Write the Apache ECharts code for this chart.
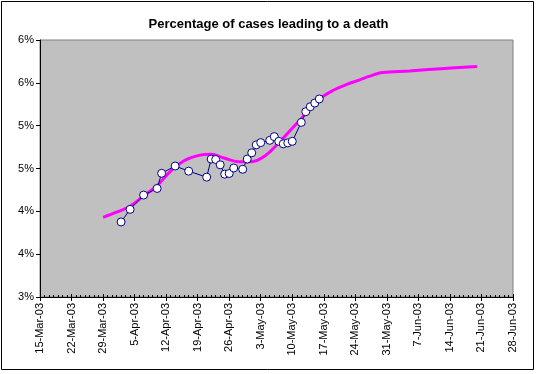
<!DOCTYPE html>
<html><head><meta charset="utf-8">
<script src="https://cdn.jsdelivr.net/npm/echarts@6/dist/echarts.min.js"></script>
<style>html,body{margin:0;padding:0;background:#fff}#c{width:537px;height:374px}</style>
</head><body><div id="c"></div>
<script>
const title = 'Percentage of cases leading to a death';
const startDate = '2003-03-15';
const endDate = '2003-06-28';
// observed percentages (blue markers)
const obsDates = ['2003-04-02','2003-04-04','2003-04-07','2003-04-10','2003-04-11','2003-04-14','2003-04-17','2003-04-21','2003-04-22','2003-04-23','2003-04-24','2003-04-25','2003-04-26','2003-04-27','2003-04-29','2003-04-30','2003-05-01','2003-05-02','2003-05-03','2003-05-05','2003-05-06','2003-05-07','2003-05-08','2003-05-09','2003-05-10','2003-05-12','2003-05-13','2003-05-14','2003-05-15','2003-05-16'];
const obsValues = [3.876,4.023,4.190,4.267,4.444,4.529,4.469,4.399,4.610,4.605,4.543,4.434,4.442,4.506,4.491,4.610,4.683,4.776,4.802,4.829,4.872,4.817,4.788,4.799,4.817,5.038,5.163,5.221,5.264,5.312];
// trend (magenta line)
const trendDates = ['2003-03-29','2003-04-01','2003-04-04','2003-04-07','2003-04-10','2003-04-13','2003-04-16','2003-04-19','2003-04-22','2003-04-25','2003-04-28','2003-05-01','2003-05-04','2003-05-07','2003-05-10','2003-05-13','2003-05-16','2003-05-19','2003-05-22','2003-05-25','2003-05-27','2003-05-30','2003-06-05','2003-06-12','2003-06-20'];
const trendValues = [3.93,3.99,4.06,4.18,4.30,4.47,4.59,4.65,4.665,4.62,4.58,4.58,4.65,4.80,4.97,5.14,5.31,5.41,5.48,5.535,5.575,5.62,5.638,5.665,5.69];
const yMin = 3, yMax = 6, yStep = 0.5;

const DAY = 86400000;
const t0 = Date.parse(startDate);
const toDay = s => Math.round((Date.parse(s) - t0) / DAY);
const months = ['Jan','Feb','Mar','Apr','May','Jun','Jul','Aug','Sep','Oct','Nov','Dec'];
const fmtDay = d => { const dt = new Date(t0 + d * DAY); return dt.getUTCDate() + '-' + months[dt.getUTCMonth()] + '-' + String(dt.getUTCFullYear()).slice(2); };
const xMax = toDay(endDate);

const chart = echarts.init(document.getElementById('c'));
const font = "'Liberation Sans', Arial, sans-serif";
chart.setOption({
  animation: false,
  backgroundColor: '#fff',
  title: { text: title, left: 'center', top: 13, textStyle: { fontFamily: font, fontSize: 13, fontWeight: 'bold', color: '#000' } },
  grid: { left: 40, top: 40, right: 24, bottom: 77, show: true, backgroundColor: '#c0c0c0', borderColor: '#808080', borderWidth: 1 },
  graphic: [{ type: 'rect', shape: { x: 1.5, y: 1.5, width: 532, height: 368 }, style: { fill: 'none', stroke: '#000', lineWidth: 1 }, z: 100 }],
  xAxis: [{
    type: 'value', min: 0, max: xMax, interval: 7,
    axisLine: { show: true, lineStyle: { color: '#000', width: 1 } },
    axisTick: { show: true, inside: true, length: 3, lineStyle: { color: '#000' } },
    minorTick: { show: true, splitNumber: 7, length: 2, lineStyle: { color: '#000' } },
    splitLine: { show: false },
    axisLabel: { rotate: 90, margin: 6, fontFamily: font, fontSize: 11, color: '#000', formatter: v => fmtDay(v) }
  }, {
    type: 'value', min: 0, max: xMax, interval: 7, position: 'bottom',
    axisLine: { show: false }, axisLabel: { show: false }, splitLine: { show: false },
    axisTick: { show: true, length: 4, lineStyle: { color: '#000' } }
  }],
  yAxis: {
    type: 'value', min: yMin, max: yMax, interval: yStep,
    axisLine: { show: true, lineStyle: { color: '#000' } },
    axisTick: { show: true, length: 4, lineStyle: { color: '#000' } },
    splitLine: { show: false },
    axisLabel: { margin: 6, fontFamily: font, fontSize: 11, color: '#000', formatter: v => Math.round(v) + '%' }
  },
  series: [{
    type: 'line', xAxisIndex: 0, data: trendDates.map((d, i) => [toDay(d), trendValues[i]]),
    smooth: 0.35, showSymbol: false, symbol: 'none',
    lineStyle: { color: '#ff00ff', width: 3 }, z: 2
  }, {
    type: 'line', xAxisIndex: 0, data: obsDates.map((d, i) => [toDay(d), obsValues[i]]),
    symbol: 'circle', symbolSize: 8,
    lineStyle: { color: '#000080', width: 1 },
    itemStyle: { color: '#fff', borderColor: '#000080', borderWidth: 1 }, z: 3
  }]
});
</script></body></html>
